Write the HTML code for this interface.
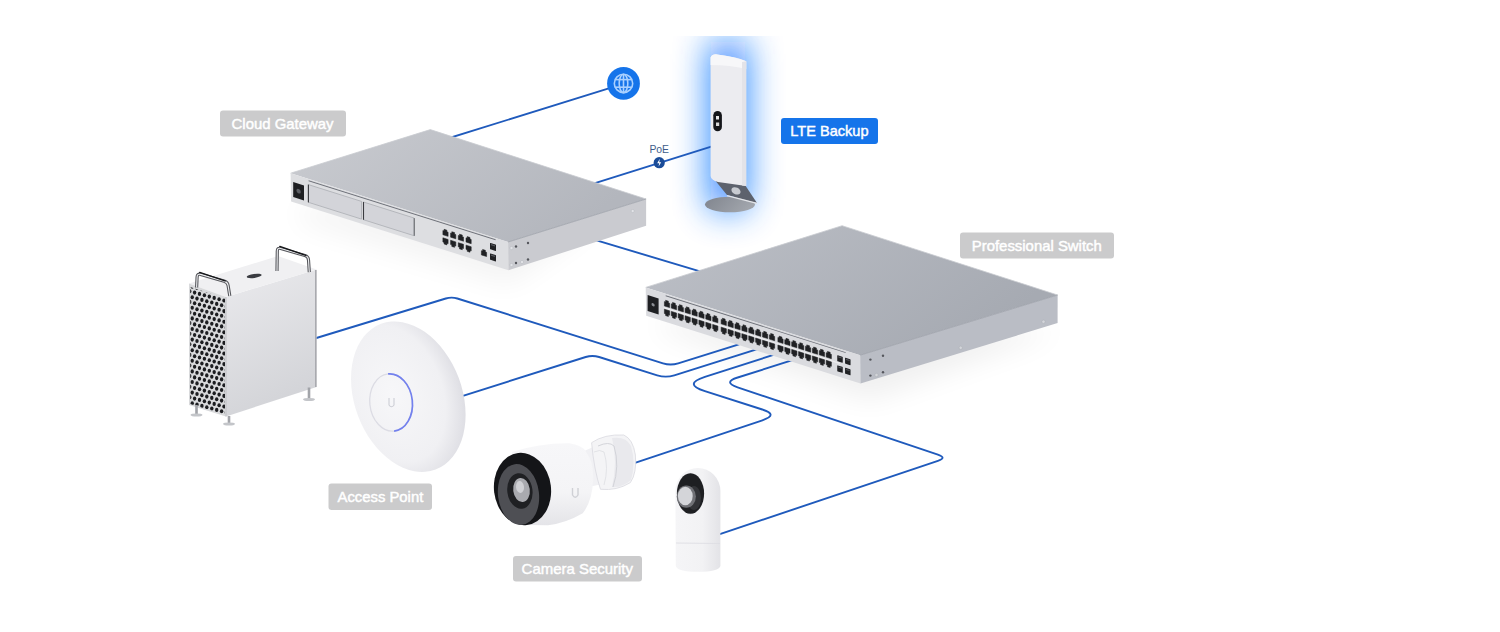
<!DOCTYPE html>
<html><head><meta charset="utf-8"><style>
html,body{margin:0;padding:0;background:#fff;width:1500px;height:632px;overflow:hidden}
svg{display:block}
</style></head><body>
<svg width="1500" height="632" viewBox="0 0 1500 632">
<defs><filter id="blur8" x="-50%" y="-50%" width="200%" height="200%"><feGaussianBlur stdDeviation="9"/></filter><filter id="blur14" x="-50%" y="-50%" width="200%" height="200%"><feGaussianBlur stdDeviation="14"/></filter><filter id="blur18" x="-50%" y="-50%" width="200%" height="200%"><feGaussianBlur stdDeviation="18"/></filter></defs>
<polygon points="300.0,205.0 600.0,220.0 510.0,285.0 300.0,222.0" fill="#000"  opacity="0.045" filter="url(#blur14)"/>
<polygon points="660.0,320.0 1060.0,330.0 870.0,400.0 660.0,330.0" fill="#000"  opacity="0.06" filter="url(#blur14)"/>
<defs><filter id="glow1" filterUnits="userSpaceOnUse" x="600" y="-40" width="260" height="360"><feGaussianBlur stdDeviation="18"/></filter><clipPath id="glowclip"><rect x="640" y="36" width="180" height="225"/></clipPath></defs>
<g clip-path="url(#glowclip)"><rect x="710" y="42" width="36" height="168" fill="#0a72ff" opacity="0.9" filter="url(#glow1)"/></g>
<path d="M430.0,144.0 L612.0,87.4" fill="none" stroke="#1f5abc" stroke-width="1.9" stroke-linecap="round"/>
<path d="M560.0,194.2 L712.0,146.4" fill="none" stroke="#1f5abc" stroke-width="1.9" stroke-linecap="round"/>
<path d="M560.0,229.4 L720.0,277.4" fill="none" stroke="#1f5abc" stroke-width="1.9" stroke-linecap="round"/>
<path d="M300.0,343.0 L445.8,298.5 Q451.6,296.7 457.3,298.5 L663.0,363.3 Q670.6,365.7 678.2,363.3 L765.0,336.1" fill="none" stroke="#1f5abc" stroke-width="1.9" stroke-linecap="round"/>
<path d="M440.0,403.1 L585.7,357.0 Q592.4,354.9 599.1,357.0 L657.2,375.3 Q665.7,378.0 674.3,375.3 L780.0,342.0" fill="none" stroke="#1f5abc" stroke-width="1.9" stroke-linecap="round"/>
<path d="M790.0,349.6 L704.9,376.8 Q682.6,383.9 704.9,391.1 L762.3,409.5 Q778.9,414.8 762.4,420.3 L620.0,467.8" fill="none" stroke="#1f5abc" stroke-width="1.9" stroke-linecap="round"/>
<path d="M805.0,356.2 L737.7,377.5 Q722.5,382.3 737.6,387.3 L937.9,454.7 Q947.2,457.8 937.9,460.9 L705.0,539.1" fill="none" stroke="#1f5abc" stroke-width="1.9" stroke-linecap="round"/>
<defs><linearGradient id="ltebase" x1="0" y1="0" x2="1" y2="0.3"><stop offset="0" stop-color="#80858e"/><stop offset="1" stop-color="#a1a5ac"/></linearGradient></defs>
<ellipse cx="730" cy="204.5" rx="25" ry="7.8" fill="url(#ltebase)"/>
<polygon points="714,179 745,185 757,203 727,195" fill="#5d626d"/>
<line x1="727" y1="195.6" x2="757" y2="203.4" stroke="#e3e5e9" stroke-width="1.3"/>
<ellipse cx="736" cy="190.9" rx="4.8" ry="3.4" fill="#c8cbd1" transform="rotate(25 736 190.9)"/>
<path d="M710.6,57.5 Q712,54 717,54.4 Q735,56.5 746.2,61.2 L746.2,186 L718,182 Q711,180 710.6,176 Z" fill="#ececf0"/>
<path d="M710.6,57.5 Q712,54 717,54.4 Q735,56.5 746.2,61.2 L746.2,69 Q730,65 710.6,65 Z" fill="#f7f7f9"/>
<path d="M742,62 L746.2,61.2 L746.2,186 L742,185.4 Z" fill="#e3e3e8"/>
<rect x="713.3" y="111" width="8.6" height="20.2" rx="4.3" fill="#15161a"/>
<rect x="716" y="116" width="3" height="3.5" fill="#e8e8e8"/><rect x="716" y="122.5" width="3.2" height="3.5" fill="#d8d8d8"/>
<defs><linearGradient id="gwtg" x1="0" y1="0" x2="1" y2="0.4"><stop offset="0" stop-color="#c9cbd0"/><stop offset="1" stop-color="#b3b6bd"/></linearGradient></defs>
<polygon points="290.6,173.2 430.3,129.6 646.1,199.0 508.1,242.0" fill="url(#gwtg)" />
<polyline points="290.6,173.2 430.3,129.6 646.1,199" fill="none" stroke="#c9cbd0" stroke-width="0.8"/>
<polygon points="290.6,173.2 508.1,242.0 508.4,270.2 291.1,201.4" fill="#dddee1" />
<polygon points="508.1,242.0 646.1,199.0 646.1,225.8 508.4,270.2" fill="#cacbd0" />
<line x1="508.1" y1="242" x2="646.1" y2="199" stroke="#9da1aa" stroke-width="0.8"/>
<g transform="matrix(1,0.316,0,1,290.6,173.2)">
<line x1="18" y1="1.8" x2="205" y2="1.8" stroke="#6d7078" stroke-width="0.9"/>
<rect x="2.6" y="8" width="10.8" height="15" fill="#1e1f22"/>
<circle cx="8" cy="15.5" r="2.2" fill="#5d5f65"/>
<rect x="17.8" y="5.8" width="53.10000000000001" height="17.7" fill="#d3d4d9" stroke="#a9abb1" stroke-width="0.7"/>
<line x1="17.8" y1="5.8" x2="17.8" y2="23.5" stroke="#3a3b40" stroke-width="1.1"/>
<rect x="72.9" y="5.8" width="50.69999999999999" height="17.7" fill="#d3d4d9" stroke="#a9abb1" stroke-width="0.7"/>
<line x1="72.9" y1="5.8" x2="72.9" y2="23.5" stroke="#3a3b40" stroke-width="1.1"/>
<line x1="123.6" y1="5.8" x2="123.6" y2="23.5" stroke="#55575c" stroke-width="0.9"/>
<path d="M152.30,13.40 L152.30,9.22 L153.50,9.22 L153.50,7.60 L156.30,7.60 L156.30,9.22 L157.50,9.22 L157.50,13.40 Z" fill="#202124" stroke="#202124" stroke-width="0.5" stroke-linejoin="round"/>
<path d="M160.00,13.40 L160.00,9.22 L161.20,9.22 L161.20,7.60 L164.00,7.60 L164.00,9.22 L165.20,9.22 L165.20,13.40 Z" fill="#202124" stroke="#202124" stroke-width="0.5" stroke-linejoin="round"/>
<path d="M167.70,13.40 L167.70,9.22 L168.90,9.22 L168.90,7.60 L171.70,7.60 L171.70,9.22 L172.90,9.22 L172.90,13.40 Z" fill="#202124" stroke="#202124" stroke-width="0.5" stroke-linejoin="round"/>
<path d="M175.40,13.40 L175.40,9.22 L176.60,9.22 L176.60,7.60 L179.40,7.60 L179.40,9.22 L180.60,9.22 L180.60,13.40 Z" fill="#202124" stroke="#202124" stroke-width="0.5" stroke-linejoin="round"/>
<path d="M152.30,16.50 L152.30,20.68 L153.50,20.68 L153.50,22.30 L156.30,22.30 L156.30,20.68 L157.50,20.68 L157.50,16.50 Z" fill="#202124" stroke="#202124" stroke-width="0.5" stroke-linejoin="round"/>
<path d="M160.00,16.50 L160.00,20.68 L161.20,20.68 L161.20,22.30 L164.00,22.30 L164.00,20.68 L165.20,20.68 L165.20,16.50 Z" fill="#202124" stroke="#202124" stroke-width="0.5" stroke-linejoin="round"/>
<path d="M167.70,16.50 L167.70,20.68 L168.90,20.68 L168.90,22.30 L171.70,22.30 L171.70,20.68 L172.90,20.68 L172.90,16.50 Z" fill="#202124" stroke="#202124" stroke-width="0.5" stroke-linejoin="round"/>
<path d="M175.40,16.50 L175.40,20.68 L176.60,20.68 L176.60,22.30 L179.40,22.30 L179.40,20.68 L180.60,20.68 L180.60,16.50 Z" fill="#202124" stroke="#202124" stroke-width="0.5" stroke-linejoin="round"/>
<path d="M190.80,21.40 L190.80,17.22 L192.00,17.22 L192.00,15.60 L194.80,15.60 L194.80,17.22 L196.00,17.22 L196.00,21.40 Z" fill="#202124" stroke="#202124" stroke-width="0.5" stroke-linejoin="round"/>
<rect x="199.40" y="6.65" width="6" height="6.3" rx="0.5" fill="#202124"/><rect x="200.40" y="7.55" width="4" height="1.1" fill="#55575d"/>
<rect x="199.40" y="17.15" width="6" height="6.3" rx="0.5" fill="#202124"/><rect x="200.40" y="18.05" width="4" height="1.1" fill="#55575d"/>
</g>
<circle cx="516" cy="246.5" r="1.2" fill="#55575d"/>
<circle cx="528" cy="243" r="1.2" fill="#55575d"/>
<circle cx="516" cy="263" r="1.2" fill="#55575d"/>
<circle cx="528" cy="259.5" r="1.2" fill="#55575d"/>
<circle cx="632.7" cy="211" r="1.6" fill="#e2e3e7" stroke="#b5b8be" stroke-width="0.5"/>
<circle cx="511.5" cy="248" r="1.6" fill="#e2e3e7" stroke="#b5b8be" stroke-width="0.5"/>
<circle cx="511.5" cy="265" r="1.6" fill="#e2e3e7" stroke="#b5b8be" stroke-width="0.5"/>
<circle cx="522" cy="262" r="1.6" fill="#e2e3e7" stroke="#b5b8be" stroke-width="0.5"/>
<defs><linearGradient id="swtg" x1="0" y1="0" x2="1" y2="0.4"><stop offset="0" stop-color="#bdc0c7"/><stop offset="1" stop-color="#a6aab2"/></linearGradient></defs>
<polygon points="645.7,287.4 842.1,225.7 1057.6,295.0 860.2,355.2" fill="url(#swtg)" />
<polyline points="645.7,287.4 842.1,225.7 1057.6,295" fill="none" stroke="#c9cbd0" stroke-width="0.8"/>
<polygon points="645.7,287.4 860.2,355.2 860.5,383.5 646.2,315.7" fill="#dadbdf" />
<polygon points="860.2,355.2 1057.6,295.0 1057.6,323.1 860.5,383.5" fill="#babdc5" />
<line x1="860.2" y1="355.2" x2="1057.6" y2="295" stroke="#9da1aa" stroke-width="0.8"/>
<g transform="matrix(1,0.316,0,1,645.7,287.4)">
<line x1="20" y1="2" x2="200" y2="2" stroke="#6d7078" stroke-width="0.9"/>
<rect x="1.9" y="7" width="11" height="16" fill="#1e1f22"/>
<circle cx="7.4" cy="15" r="1.6" fill="#8c8e94"/>
<rect x="18" y="14" width="176" height="1.2" fill="#eeeef0"/>
<path d="M18.70,12.60 L18.70,8.28 L19.90,8.28 L19.90,6.60 L22.70,6.60 L22.70,8.28 L23.90,8.28 L23.90,12.60 Z" fill="#202124" stroke="#202124" stroke-width="0.5" stroke-linejoin="round"/>
<path d="M18.70,15.90 L18.70,20.22 L19.90,20.22 L19.90,21.90 L22.70,21.90 L22.70,20.22 L23.90,20.22 L23.90,15.90 Z" fill="#202124" stroke="#202124" stroke-width="0.5" stroke-linejoin="round"/>
<path d="M25.60,12.60 L25.60,8.28 L26.80,8.28 L26.80,6.60 L29.60,6.60 L29.60,8.28 L30.80,8.28 L30.80,12.60 Z" fill="#202124" stroke="#202124" stroke-width="0.5" stroke-linejoin="round"/>
<path d="M25.60,15.90 L25.60,20.22 L26.80,20.22 L26.80,21.90 L29.60,21.90 L29.60,20.22 L30.80,20.22 L30.80,15.90 Z" fill="#202124" stroke="#202124" stroke-width="0.5" stroke-linejoin="round"/>
<path d="M32.50,12.60 L32.50,8.28 L33.70,8.28 L33.70,6.60 L36.50,6.60 L36.50,8.28 L37.70,8.28 L37.70,12.60 Z" fill="#202124" stroke="#202124" stroke-width="0.5" stroke-linejoin="round"/>
<path d="M32.50,15.90 L32.50,20.22 L33.70,20.22 L33.70,21.90 L36.50,21.90 L36.50,20.22 L37.70,20.22 L37.70,15.90 Z" fill="#202124" stroke="#202124" stroke-width="0.5" stroke-linejoin="round"/>
<path d="M39.40,12.60 L39.40,8.28 L40.60,8.28 L40.60,6.60 L43.40,6.60 L43.40,8.28 L44.60,8.28 L44.60,12.60 Z" fill="#202124" stroke="#202124" stroke-width="0.5" stroke-linejoin="round"/>
<path d="M39.40,15.90 L39.40,20.22 L40.60,20.22 L40.60,21.90 L43.40,21.90 L43.40,20.22 L44.60,20.22 L44.60,15.90 Z" fill="#202124" stroke="#202124" stroke-width="0.5" stroke-linejoin="round"/>
<path d="M46.30,12.60 L46.30,8.28 L47.50,8.28 L47.50,6.60 L50.30,6.60 L50.30,8.28 L51.50,8.28 L51.50,12.60 Z" fill="#202124" stroke="#202124" stroke-width="0.5" stroke-linejoin="round"/>
<path d="M46.30,15.90 L46.30,20.22 L47.50,20.22 L47.50,21.90 L50.30,21.90 L50.30,20.22 L51.50,20.22 L51.50,15.90 Z" fill="#202124" stroke="#202124" stroke-width="0.5" stroke-linejoin="round"/>
<path d="M53.20,12.60 L53.20,8.28 L54.40,8.28 L54.40,6.60 L57.20,6.60 L57.20,8.28 L58.40,8.28 L58.40,12.60 Z" fill="#202124" stroke="#202124" stroke-width="0.5" stroke-linejoin="round"/>
<path d="M53.20,15.90 L53.20,20.22 L54.40,20.22 L54.40,21.90 L57.20,21.90 L57.20,20.22 L58.40,20.22 L58.40,15.90 Z" fill="#202124" stroke="#202124" stroke-width="0.5" stroke-linejoin="round"/>
<path d="M60.10,12.60 L60.10,8.28 L61.30,8.28 L61.30,6.60 L64.10,6.60 L64.10,8.28 L65.30,8.28 L65.30,12.60 Z" fill="#202124" stroke="#202124" stroke-width="0.5" stroke-linejoin="round"/>
<path d="M60.10,15.90 L60.10,20.22 L61.30,20.22 L61.30,21.90 L64.10,21.90 L64.10,20.22 L65.30,20.22 L65.30,15.90 Z" fill="#202124" stroke="#202124" stroke-width="0.5" stroke-linejoin="round"/>
<path d="M67.00,12.60 L67.00,8.28 L68.20,8.28 L68.20,6.60 L71.00,6.60 L71.00,8.28 L72.20,8.28 L72.20,12.60 Z" fill="#202124" stroke="#202124" stroke-width="0.5" stroke-linejoin="round"/>
<path d="M67.00,15.90 L67.00,20.22 L68.20,20.22 L68.20,21.90 L71.00,21.90 L71.00,20.22 L72.20,20.22 L72.20,15.90 Z" fill="#202124" stroke="#202124" stroke-width="0.5" stroke-linejoin="round"/>
<path d="M75.45,12.60 L75.45,8.28 L76.65,8.28 L76.65,6.60 L79.45,6.60 L79.45,8.28 L80.65,8.28 L80.65,12.60 Z" fill="#202124" stroke="#202124" stroke-width="0.5" stroke-linejoin="round"/>
<path d="M75.45,15.90 L75.45,20.22 L76.65,20.22 L76.65,21.90 L79.45,21.90 L79.45,20.22 L80.65,20.22 L80.65,15.90 Z" fill="#202124" stroke="#202124" stroke-width="0.5" stroke-linejoin="round"/>
<path d="M82.35,12.60 L82.35,8.28 L83.55,8.28 L83.55,6.60 L86.35,6.60 L86.35,8.28 L87.55,8.28 L87.55,12.60 Z" fill="#202124" stroke="#202124" stroke-width="0.5" stroke-linejoin="round"/>
<path d="M82.35,15.90 L82.35,20.22 L83.55,20.22 L83.55,21.90 L86.35,21.90 L86.35,20.22 L87.55,20.22 L87.55,15.90 Z" fill="#202124" stroke="#202124" stroke-width="0.5" stroke-linejoin="round"/>
<path d="M89.25,12.60 L89.25,8.28 L90.45,8.28 L90.45,6.60 L93.25,6.60 L93.25,8.28 L94.45,8.28 L94.45,12.60 Z" fill="#202124" stroke="#202124" stroke-width="0.5" stroke-linejoin="round"/>
<path d="M89.25,15.90 L89.25,20.22 L90.45,20.22 L90.45,21.90 L93.25,21.90 L93.25,20.22 L94.45,20.22 L94.45,15.90 Z" fill="#202124" stroke="#202124" stroke-width="0.5" stroke-linejoin="round"/>
<path d="M96.15,12.60 L96.15,8.28 L97.35,8.28 L97.35,6.60 L100.15,6.60 L100.15,8.28 L101.35,8.28 L101.35,12.60 Z" fill="#202124" stroke="#202124" stroke-width="0.5" stroke-linejoin="round"/>
<path d="M96.15,15.90 L96.15,20.22 L97.35,20.22 L97.35,21.90 L100.15,21.90 L100.15,20.22 L101.35,20.22 L101.35,15.90 Z" fill="#202124" stroke="#202124" stroke-width="0.5" stroke-linejoin="round"/>
<path d="M103.05,12.60 L103.05,8.28 L104.25,8.28 L104.25,6.60 L107.05,6.60 L107.05,8.28 L108.25,8.28 L108.25,12.60 Z" fill="#202124" stroke="#202124" stroke-width="0.5" stroke-linejoin="round"/>
<path d="M103.05,15.90 L103.05,20.22 L104.25,20.22 L104.25,21.90 L107.05,21.90 L107.05,20.22 L108.25,20.22 L108.25,15.90 Z" fill="#202124" stroke="#202124" stroke-width="0.5" stroke-linejoin="round"/>
<path d="M109.95,12.60 L109.95,8.28 L111.15,8.28 L111.15,6.60 L113.95,6.60 L113.95,8.28 L115.15,8.28 L115.15,12.60 Z" fill="#202124" stroke="#202124" stroke-width="0.5" stroke-linejoin="round"/>
<path d="M109.95,15.90 L109.95,20.22 L111.15,20.22 L111.15,21.90 L113.95,21.90 L113.95,20.22 L115.15,20.22 L115.15,15.90 Z" fill="#202124" stroke="#202124" stroke-width="0.5" stroke-linejoin="round"/>
<path d="M116.85,12.60 L116.85,8.28 L118.05,8.28 L118.05,6.60 L120.85,6.60 L120.85,8.28 L122.05,8.28 L122.05,12.60 Z" fill="#202124" stroke="#202124" stroke-width="0.5" stroke-linejoin="round"/>
<path d="M116.85,15.90 L116.85,20.22 L118.05,20.22 L118.05,21.90 L120.85,21.90 L120.85,20.22 L122.05,20.22 L122.05,15.90 Z" fill="#202124" stroke="#202124" stroke-width="0.5" stroke-linejoin="round"/>
<path d="M123.75,12.60 L123.75,8.28 L124.95,8.28 L124.95,6.60 L127.75,6.60 L127.75,8.28 L128.95,8.28 L128.95,12.60 Z" fill="#202124" stroke="#202124" stroke-width="0.5" stroke-linejoin="round"/>
<path d="M123.75,15.90 L123.75,20.22 L124.95,20.22 L124.95,21.90 L127.75,21.90 L127.75,20.22 L128.95,20.22 L128.95,15.90 Z" fill="#202124" stroke="#202124" stroke-width="0.5" stroke-linejoin="round"/>
<path d="M132.20,12.60 L132.20,8.28 L133.40,8.28 L133.40,6.60 L136.20,6.60 L136.20,8.28 L137.40,8.28 L137.40,12.60 Z" fill="#202124" stroke="#202124" stroke-width="0.5" stroke-linejoin="round"/>
<path d="M132.20,15.90 L132.20,20.22 L133.40,20.22 L133.40,21.90 L136.20,21.90 L136.20,20.22 L137.40,20.22 L137.40,15.90 Z" fill="#202124" stroke="#202124" stroke-width="0.5" stroke-linejoin="round"/>
<path d="M139.10,12.60 L139.10,8.28 L140.30,8.28 L140.30,6.60 L143.10,6.60 L143.10,8.28 L144.30,8.28 L144.30,12.60 Z" fill="#202124" stroke="#202124" stroke-width="0.5" stroke-linejoin="round"/>
<path d="M139.10,15.90 L139.10,20.22 L140.30,20.22 L140.30,21.90 L143.10,21.90 L143.10,20.22 L144.30,20.22 L144.30,15.90 Z" fill="#202124" stroke="#202124" stroke-width="0.5" stroke-linejoin="round"/>
<path d="M146.00,12.60 L146.00,8.28 L147.20,8.28 L147.20,6.60 L150.00,6.60 L150.00,8.28 L151.20,8.28 L151.20,12.60 Z" fill="#202124" stroke="#202124" stroke-width="0.5" stroke-linejoin="round"/>
<path d="M146.00,15.90 L146.00,20.22 L147.20,20.22 L147.20,21.90 L150.00,21.90 L150.00,20.22 L151.20,20.22 L151.20,15.90 Z" fill="#202124" stroke="#202124" stroke-width="0.5" stroke-linejoin="round"/>
<path d="M152.90,12.60 L152.90,8.28 L154.10,8.28 L154.10,6.60 L156.90,6.60 L156.90,8.28 L158.10,8.28 L158.10,12.60 Z" fill="#202124" stroke="#202124" stroke-width="0.5" stroke-linejoin="round"/>
<path d="M152.90,15.90 L152.90,20.22 L154.10,20.22 L154.10,21.90 L156.90,21.90 L156.90,20.22 L158.10,20.22 L158.10,15.90 Z" fill="#202124" stroke="#202124" stroke-width="0.5" stroke-linejoin="round"/>
<path d="M159.80,12.60 L159.80,8.28 L161.00,8.28 L161.00,6.60 L163.80,6.60 L163.80,8.28 L165.00,8.28 L165.00,12.60 Z" fill="#202124" stroke="#202124" stroke-width="0.5" stroke-linejoin="round"/>
<path d="M159.80,15.90 L159.80,20.22 L161.00,20.22 L161.00,21.90 L163.80,21.90 L163.80,20.22 L165.00,20.22 L165.00,15.90 Z" fill="#202124" stroke="#202124" stroke-width="0.5" stroke-linejoin="round"/>
<path d="M166.70,12.60 L166.70,8.28 L167.90,8.28 L167.90,6.60 L170.70,6.60 L170.70,8.28 L171.90,8.28 L171.90,12.60 Z" fill="#202124" stroke="#202124" stroke-width="0.5" stroke-linejoin="round"/>
<path d="M166.70,15.90 L166.70,20.22 L167.90,20.22 L167.90,21.90 L170.70,21.90 L170.70,20.22 L171.90,20.22 L171.90,15.90 Z" fill="#202124" stroke="#202124" stroke-width="0.5" stroke-linejoin="round"/>
<path d="M173.60,12.60 L173.60,8.28 L174.80,8.28 L174.80,6.60 L177.60,6.60 L177.60,8.28 L178.80,8.28 L178.80,12.60 Z" fill="#202124" stroke="#202124" stroke-width="0.5" stroke-linejoin="round"/>
<path d="M173.60,15.90 L173.60,20.22 L174.80,20.22 L174.80,21.90 L177.60,21.90 L177.60,20.22 L178.80,20.22 L178.80,15.90 Z" fill="#202124" stroke="#202124" stroke-width="0.5" stroke-linejoin="round"/>
<path d="M180.50,12.60 L180.50,8.28 L181.70,8.28 L181.70,6.60 L184.50,6.60 L184.50,8.28 L185.70,8.28 L185.70,12.60 Z" fill="#202124" stroke="#202124" stroke-width="0.5" stroke-linejoin="round"/>
<path d="M180.50,15.90 L180.50,20.22 L181.70,20.22 L181.70,21.90 L184.50,21.90 L184.50,20.22 L185.70,20.22 L185.70,15.90 Z" fill="#202124" stroke="#202124" stroke-width="0.5" stroke-linejoin="round"/>
<rect x="191.55" y="7.20" width="5.5" height="6" rx="0.5" fill="#202124"/><rect x="192.55" y="8.10" width="3.5" height="1.1" fill="#55575d"/>
<rect x="191.55" y="17.30" width="5.5" height="6" rx="0.5" fill="#202124"/><rect x="192.55" y="18.20" width="3.5" height="1.1" fill="#55575d"/>
<rect x="199.35" y="7.20" width="5.5" height="6" rx="0.5" fill="#202124"/><rect x="200.35" y="8.10" width="3.5" height="1.1" fill="#55575d"/>
<rect x="199.35" y="17.30" width="5.5" height="6" rx="0.5" fill="#202124"/><rect x="200.35" y="18.20" width="3.5" height="1.1" fill="#55575d"/>
</g>
<circle cx="870.4" cy="359.6" r="1.2" fill="#55575d"/>
<circle cx="883" cy="355.7" r="1.2" fill="#55575d"/>
<circle cx="870.4" cy="375.6" r="1.2" fill="#55575d"/>
<circle cx="883" cy="372.3" r="1.2" fill="#55575d"/>
<circle cx="960.7" cy="347.8" r="1.7" fill="#d3d5da" stroke="#a9acb3" stroke-width="0.5"/>
<circle cx="1043.5" cy="321.7" r="1.7" fill="#d3d5da" stroke="#a9acb3" stroke-width="0.5"/>
<circle cx="876.5" cy="375" r="1.7" fill="#d3d5da" stroke="#a9acb3" stroke-width="0.5"/>
<defs><linearGradient id="macside" x1="0" y1="0" x2="0.3" y2="1"><stop offset="0" stop-color="#eaeaed"/><stop offset="1" stop-color="#d3d4d8"/></linearGradient></defs>
<polygon points="226.0,297.0 316.5,269.4 316.5,387.0 226.0,416.5" fill="url(#macside)" />
<line x1="315.8" y1="270" x2="315.8" y2="387" stroke="#a9aaaf" stroke-width="1.6"/>
<polygon points="189.0,283.5 278.0,256.0 316.5,269.4 226.0,297.0" fill="#f0f0f2" />
<polygon points="189.0,283.5 226.0,297.0 226.0,416.5 189.0,405.0" fill="#d9dadc" />
<clipPath id="perf"><polygon points="190.2,287 225,298.5 225,415 190.2,404"/></clipPath><g clip-path="url(#perf)">
<ellipse cx="187.2" cy="285.3" rx="1.7" ry="2.05" fill="#1c1d20"/>
<ellipse cx="192.2" cy="286.6" rx="1.7" ry="2.05" fill="#1c1d20"/>
<ellipse cx="197.0" cy="288.0" rx="1.7" ry="2.05" fill="#1c1d20"/>
<ellipse cx="201.9" cy="289.3" rx="1.7" ry="2.05" fill="#1c1d20"/>
<ellipse cx="206.8" cy="290.6" rx="1.7" ry="2.05" fill="#1c1d20"/>
<ellipse cx="211.8" cy="291.9" rx="1.7" ry="2.05" fill="#1c1d20"/>
<ellipse cx="216.7" cy="293.3" rx="1.7" ry="2.05" fill="#1c1d20"/>
<ellipse cx="221.6" cy="294.6" rx="1.7" ry="2.05" fill="#1c1d20"/>
<ellipse cx="226.4" cy="295.9" rx="1.7" ry="2.05" fill="#1c1d20"/>
<ellipse cx="231.3" cy="297.2" rx="1.7" ry="2.05" fill="#1c1d20"/>
<ellipse cx="189.7" cy="291.3" rx="1.7" ry="2.05" fill="#1c1d20"/>
<ellipse cx="194.6" cy="292.6" rx="1.7" ry="2.05" fill="#1c1d20"/>
<ellipse cx="199.5" cy="293.9" rx="1.7" ry="2.05" fill="#1c1d20"/>
<ellipse cx="204.4" cy="295.2" rx="1.7" ry="2.05" fill="#1c1d20"/>
<ellipse cx="209.3" cy="296.6" rx="1.7" ry="2.05" fill="#1c1d20"/>
<ellipse cx="214.2" cy="297.9" rx="1.7" ry="2.05" fill="#1c1d20"/>
<ellipse cx="219.1" cy="299.2" rx="1.7" ry="2.05" fill="#1c1d20"/>
<ellipse cx="224.0" cy="300.5" rx="1.7" ry="2.05" fill="#1c1d20"/>
<ellipse cx="228.9" cy="301.9" rx="1.7" ry="2.05" fill="#1c1d20"/>
<ellipse cx="233.8" cy="303.2" rx="1.7" ry="2.05" fill="#1c1d20"/>
<ellipse cx="187.2" cy="295.9" rx="1.7" ry="2.05" fill="#1c1d20"/>
<ellipse cx="192.2" cy="297.2" rx="1.7" ry="2.05" fill="#1c1d20"/>
<ellipse cx="197.0" cy="298.6" rx="1.7" ry="2.05" fill="#1c1d20"/>
<ellipse cx="201.9" cy="299.9" rx="1.7" ry="2.05" fill="#1c1d20"/>
<ellipse cx="206.8" cy="301.2" rx="1.7" ry="2.05" fill="#1c1d20"/>
<ellipse cx="211.8" cy="302.5" rx="1.7" ry="2.05" fill="#1c1d20"/>
<ellipse cx="216.7" cy="303.9" rx="1.7" ry="2.05" fill="#1c1d20"/>
<ellipse cx="221.6" cy="305.2" rx="1.7" ry="2.05" fill="#1c1d20"/>
<ellipse cx="226.4" cy="306.5" rx="1.7" ry="2.05" fill="#1c1d20"/>
<ellipse cx="231.3" cy="307.8" rx="1.7" ry="2.05" fill="#1c1d20"/>
<ellipse cx="189.7" cy="301.9" rx="1.7" ry="2.05" fill="#1c1d20"/>
<ellipse cx="194.6" cy="303.2" rx="1.7" ry="2.05" fill="#1c1d20"/>
<ellipse cx="199.5" cy="304.5" rx="1.7" ry="2.05" fill="#1c1d20"/>
<ellipse cx="204.4" cy="305.8" rx="1.7" ry="2.05" fill="#1c1d20"/>
<ellipse cx="209.3" cy="307.2" rx="1.7" ry="2.05" fill="#1c1d20"/>
<ellipse cx="214.2" cy="308.5" rx="1.7" ry="2.05" fill="#1c1d20"/>
<ellipse cx="219.1" cy="309.8" rx="1.7" ry="2.05" fill="#1c1d20"/>
<ellipse cx="224.0" cy="311.1" rx="1.7" ry="2.05" fill="#1c1d20"/>
<ellipse cx="228.9" cy="312.5" rx="1.7" ry="2.05" fill="#1c1d20"/>
<ellipse cx="233.8" cy="313.8" rx="1.7" ry="2.05" fill="#1c1d20"/>
<ellipse cx="187.2" cy="306.5" rx="1.7" ry="2.05" fill="#1c1d20"/>
<ellipse cx="192.2" cy="307.8" rx="1.7" ry="2.05" fill="#1c1d20"/>
<ellipse cx="197.0" cy="309.2" rx="1.7" ry="2.05" fill="#1c1d20"/>
<ellipse cx="201.9" cy="310.5" rx="1.7" ry="2.05" fill="#1c1d20"/>
<ellipse cx="206.8" cy="311.8" rx="1.7" ry="2.05" fill="#1c1d20"/>
<ellipse cx="211.8" cy="313.1" rx="1.7" ry="2.05" fill="#1c1d20"/>
<ellipse cx="216.7" cy="314.5" rx="1.7" ry="2.05" fill="#1c1d20"/>
<ellipse cx="221.6" cy="315.8" rx="1.7" ry="2.05" fill="#1c1d20"/>
<ellipse cx="226.4" cy="317.1" rx="1.7" ry="2.05" fill="#1c1d20"/>
<ellipse cx="231.3" cy="318.4" rx="1.7" ry="2.05" fill="#1c1d20"/>
<ellipse cx="189.7" cy="312.5" rx="1.7" ry="2.05" fill="#1c1d20"/>
<ellipse cx="194.6" cy="313.8" rx="1.7" ry="2.05" fill="#1c1d20"/>
<ellipse cx="199.5" cy="315.1" rx="1.7" ry="2.05" fill="#1c1d20"/>
<ellipse cx="204.4" cy="316.4" rx="1.7" ry="2.05" fill="#1c1d20"/>
<ellipse cx="209.3" cy="317.8" rx="1.7" ry="2.05" fill="#1c1d20"/>
<ellipse cx="214.2" cy="319.1" rx="1.7" ry="2.05" fill="#1c1d20"/>
<ellipse cx="219.1" cy="320.4" rx="1.7" ry="2.05" fill="#1c1d20"/>
<ellipse cx="224.0" cy="321.7" rx="1.7" ry="2.05" fill="#1c1d20"/>
<ellipse cx="228.9" cy="323.1" rx="1.7" ry="2.05" fill="#1c1d20"/>
<ellipse cx="233.8" cy="324.4" rx="1.7" ry="2.05" fill="#1c1d20"/>
<ellipse cx="187.2" cy="317.1" rx="1.7" ry="2.05" fill="#1c1d20"/>
<ellipse cx="192.2" cy="318.4" rx="1.7" ry="2.05" fill="#1c1d20"/>
<ellipse cx="197.0" cy="319.8" rx="1.7" ry="2.05" fill="#1c1d20"/>
<ellipse cx="201.9" cy="321.1" rx="1.7" ry="2.05" fill="#1c1d20"/>
<ellipse cx="206.8" cy="322.4" rx="1.7" ry="2.05" fill="#1c1d20"/>
<ellipse cx="211.8" cy="323.7" rx="1.7" ry="2.05" fill="#1c1d20"/>
<ellipse cx="216.7" cy="325.1" rx="1.7" ry="2.05" fill="#1c1d20"/>
<ellipse cx="221.6" cy="326.4" rx="1.7" ry="2.05" fill="#1c1d20"/>
<ellipse cx="226.4" cy="327.7" rx="1.7" ry="2.05" fill="#1c1d20"/>
<ellipse cx="231.3" cy="329.0" rx="1.7" ry="2.05" fill="#1c1d20"/>
<ellipse cx="189.7" cy="323.1" rx="1.7" ry="2.05" fill="#1c1d20"/>
<ellipse cx="194.6" cy="324.4" rx="1.7" ry="2.05" fill="#1c1d20"/>
<ellipse cx="199.5" cy="325.7" rx="1.7" ry="2.05" fill="#1c1d20"/>
<ellipse cx="204.4" cy="327.0" rx="1.7" ry="2.05" fill="#1c1d20"/>
<ellipse cx="209.3" cy="328.4" rx="1.7" ry="2.05" fill="#1c1d20"/>
<ellipse cx="214.2" cy="329.7" rx="1.7" ry="2.05" fill="#1c1d20"/>
<ellipse cx="219.1" cy="331.0" rx="1.7" ry="2.05" fill="#1c1d20"/>
<ellipse cx="224.0" cy="332.3" rx="1.7" ry="2.05" fill="#1c1d20"/>
<ellipse cx="228.9" cy="333.7" rx="1.7" ry="2.05" fill="#1c1d20"/>
<ellipse cx="233.8" cy="335.0" rx="1.7" ry="2.05" fill="#1c1d20"/>
<ellipse cx="187.2" cy="327.7" rx="1.7" ry="2.05" fill="#1c1d20"/>
<ellipse cx="192.2" cy="329.0" rx="1.7" ry="2.05" fill="#1c1d20"/>
<ellipse cx="197.0" cy="330.4" rx="1.7" ry="2.05" fill="#1c1d20"/>
<ellipse cx="201.9" cy="331.7" rx="1.7" ry="2.05" fill="#1c1d20"/>
<ellipse cx="206.8" cy="333.0" rx="1.7" ry="2.05" fill="#1c1d20"/>
<ellipse cx="211.8" cy="334.3" rx="1.7" ry="2.05" fill="#1c1d20"/>
<ellipse cx="216.7" cy="335.7" rx="1.7" ry="2.05" fill="#1c1d20"/>
<ellipse cx="221.6" cy="337.0" rx="1.7" ry="2.05" fill="#1c1d20"/>
<ellipse cx="226.4" cy="338.3" rx="1.7" ry="2.05" fill="#1c1d20"/>
<ellipse cx="231.3" cy="339.6" rx="1.7" ry="2.05" fill="#1c1d20"/>
<ellipse cx="189.7" cy="333.7" rx="1.7" ry="2.05" fill="#1c1d20"/>
<ellipse cx="194.6" cy="335.0" rx="1.7" ry="2.05" fill="#1c1d20"/>
<ellipse cx="199.5" cy="336.3" rx="1.7" ry="2.05" fill="#1c1d20"/>
<ellipse cx="204.4" cy="337.6" rx="1.7" ry="2.05" fill="#1c1d20"/>
<ellipse cx="209.3" cy="339.0" rx="1.7" ry="2.05" fill="#1c1d20"/>
<ellipse cx="214.2" cy="340.3" rx="1.7" ry="2.05" fill="#1c1d20"/>
<ellipse cx="219.1" cy="341.6" rx="1.7" ry="2.05" fill="#1c1d20"/>
<ellipse cx="224.0" cy="342.9" rx="1.7" ry="2.05" fill="#1c1d20"/>
<ellipse cx="228.9" cy="344.3" rx="1.7" ry="2.05" fill="#1c1d20"/>
<ellipse cx="233.8" cy="345.6" rx="1.7" ry="2.05" fill="#1c1d20"/>
<ellipse cx="187.2" cy="338.3" rx="1.7" ry="2.05" fill="#1c1d20"/>
<ellipse cx="192.2" cy="339.6" rx="1.7" ry="2.05" fill="#1c1d20"/>
<ellipse cx="197.0" cy="341.0" rx="1.7" ry="2.05" fill="#1c1d20"/>
<ellipse cx="201.9" cy="342.3" rx="1.7" ry="2.05" fill="#1c1d20"/>
<ellipse cx="206.8" cy="343.6" rx="1.7" ry="2.05" fill="#1c1d20"/>
<ellipse cx="211.8" cy="344.9" rx="1.7" ry="2.05" fill="#1c1d20"/>
<ellipse cx="216.7" cy="346.3" rx="1.7" ry="2.05" fill="#1c1d20"/>
<ellipse cx="221.6" cy="347.6" rx="1.7" ry="2.05" fill="#1c1d20"/>
<ellipse cx="226.4" cy="348.9" rx="1.7" ry="2.05" fill="#1c1d20"/>
<ellipse cx="231.3" cy="350.2" rx="1.7" ry="2.05" fill="#1c1d20"/>
<ellipse cx="189.7" cy="344.3" rx="1.7" ry="2.05" fill="#1c1d20"/>
<ellipse cx="194.6" cy="345.6" rx="1.7" ry="2.05" fill="#1c1d20"/>
<ellipse cx="199.5" cy="346.9" rx="1.7" ry="2.05" fill="#1c1d20"/>
<ellipse cx="204.4" cy="348.2" rx="1.7" ry="2.05" fill="#1c1d20"/>
<ellipse cx="209.3" cy="349.6" rx="1.7" ry="2.05" fill="#1c1d20"/>
<ellipse cx="214.2" cy="350.9" rx="1.7" ry="2.05" fill="#1c1d20"/>
<ellipse cx="219.1" cy="352.2" rx="1.7" ry="2.05" fill="#1c1d20"/>
<ellipse cx="224.0" cy="353.5" rx="1.7" ry="2.05" fill="#1c1d20"/>
<ellipse cx="228.9" cy="354.9" rx="1.7" ry="2.05" fill="#1c1d20"/>
<ellipse cx="233.8" cy="356.2" rx="1.7" ry="2.05" fill="#1c1d20"/>
<ellipse cx="187.2" cy="348.9" rx="1.7" ry="2.05" fill="#1c1d20"/>
<ellipse cx="192.2" cy="350.2" rx="1.7" ry="2.05" fill="#1c1d20"/>
<ellipse cx="197.0" cy="351.6" rx="1.7" ry="2.05" fill="#1c1d20"/>
<ellipse cx="201.9" cy="352.9" rx="1.7" ry="2.05" fill="#1c1d20"/>
<ellipse cx="206.8" cy="354.2" rx="1.7" ry="2.05" fill="#1c1d20"/>
<ellipse cx="211.8" cy="355.5" rx="1.7" ry="2.05" fill="#1c1d20"/>
<ellipse cx="216.7" cy="356.9" rx="1.7" ry="2.05" fill="#1c1d20"/>
<ellipse cx="221.6" cy="358.2" rx="1.7" ry="2.05" fill="#1c1d20"/>
<ellipse cx="226.4" cy="359.5" rx="1.7" ry="2.05" fill="#1c1d20"/>
<ellipse cx="231.3" cy="360.8" rx="1.7" ry="2.05" fill="#1c1d20"/>
<ellipse cx="189.7" cy="354.9" rx="1.7" ry="2.05" fill="#1c1d20"/>
<ellipse cx="194.6" cy="356.2" rx="1.7" ry="2.05" fill="#1c1d20"/>
<ellipse cx="199.5" cy="357.5" rx="1.7" ry="2.05" fill="#1c1d20"/>
<ellipse cx="204.4" cy="358.8" rx="1.7" ry="2.05" fill="#1c1d20"/>
<ellipse cx="209.3" cy="360.2" rx="1.7" ry="2.05" fill="#1c1d20"/>
<ellipse cx="214.2" cy="361.5" rx="1.7" ry="2.05" fill="#1c1d20"/>
<ellipse cx="219.1" cy="362.8" rx="1.7" ry="2.05" fill="#1c1d20"/>
<ellipse cx="224.0" cy="364.1" rx="1.7" ry="2.05" fill="#1c1d20"/>
<ellipse cx="228.9" cy="365.5" rx="1.7" ry="2.05" fill="#1c1d20"/>
<ellipse cx="233.8" cy="366.8" rx="1.7" ry="2.05" fill="#1c1d20"/>
<ellipse cx="187.2" cy="359.5" rx="1.7" ry="2.05" fill="#1c1d20"/>
<ellipse cx="192.2" cy="360.8" rx="1.7" ry="2.05" fill="#1c1d20"/>
<ellipse cx="197.0" cy="362.2" rx="1.7" ry="2.05" fill="#1c1d20"/>
<ellipse cx="201.9" cy="363.5" rx="1.7" ry="2.05" fill="#1c1d20"/>
<ellipse cx="206.8" cy="364.8" rx="1.7" ry="2.05" fill="#1c1d20"/>
<ellipse cx="211.8" cy="366.1" rx="1.7" ry="2.05" fill="#1c1d20"/>
<ellipse cx="216.7" cy="367.5" rx="1.7" ry="2.05" fill="#1c1d20"/>
<ellipse cx="221.6" cy="368.8" rx="1.7" ry="2.05" fill="#1c1d20"/>
<ellipse cx="226.4" cy="370.1" rx="1.7" ry="2.05" fill="#1c1d20"/>
<ellipse cx="231.3" cy="371.4" rx="1.7" ry="2.05" fill="#1c1d20"/>
<ellipse cx="189.7" cy="365.5" rx="1.7" ry="2.05" fill="#1c1d20"/>
<ellipse cx="194.6" cy="366.8" rx="1.7" ry="2.05" fill="#1c1d20"/>
<ellipse cx="199.5" cy="368.1" rx="1.7" ry="2.05" fill="#1c1d20"/>
<ellipse cx="204.4" cy="369.4" rx="1.7" ry="2.05" fill="#1c1d20"/>
<ellipse cx="209.3" cy="370.8" rx="1.7" ry="2.05" fill="#1c1d20"/>
<ellipse cx="214.2" cy="372.1" rx="1.7" ry="2.05" fill="#1c1d20"/>
<ellipse cx="219.1" cy="373.4" rx="1.7" ry="2.05" fill="#1c1d20"/>
<ellipse cx="224.0" cy="374.7" rx="1.7" ry="2.05" fill="#1c1d20"/>
<ellipse cx="228.9" cy="376.1" rx="1.7" ry="2.05" fill="#1c1d20"/>
<ellipse cx="233.8" cy="377.4" rx="1.7" ry="2.05" fill="#1c1d20"/>
<ellipse cx="187.2" cy="370.1" rx="1.7" ry="2.05" fill="#1c1d20"/>
<ellipse cx="192.2" cy="371.4" rx="1.7" ry="2.05" fill="#1c1d20"/>
<ellipse cx="197.0" cy="372.8" rx="1.7" ry="2.05" fill="#1c1d20"/>
<ellipse cx="201.9" cy="374.1" rx="1.7" ry="2.05" fill="#1c1d20"/>
<ellipse cx="206.8" cy="375.4" rx="1.7" ry="2.05" fill="#1c1d20"/>
<ellipse cx="211.8" cy="376.7" rx="1.7" ry="2.05" fill="#1c1d20"/>
<ellipse cx="216.7" cy="378.1" rx="1.7" ry="2.05" fill="#1c1d20"/>
<ellipse cx="221.6" cy="379.4" rx="1.7" ry="2.05" fill="#1c1d20"/>
<ellipse cx="226.4" cy="380.7" rx="1.7" ry="2.05" fill="#1c1d20"/>
<ellipse cx="231.3" cy="382.0" rx="1.7" ry="2.05" fill="#1c1d20"/>
<ellipse cx="189.7" cy="376.1" rx="1.7" ry="2.05" fill="#1c1d20"/>
<ellipse cx="194.6" cy="377.4" rx="1.7" ry="2.05" fill="#1c1d20"/>
<ellipse cx="199.5" cy="378.7" rx="1.7" ry="2.05" fill="#1c1d20"/>
<ellipse cx="204.4" cy="380.0" rx="1.7" ry="2.05" fill="#1c1d20"/>
<ellipse cx="209.3" cy="381.4" rx="1.7" ry="2.05" fill="#1c1d20"/>
<ellipse cx="214.2" cy="382.7" rx="1.7" ry="2.05" fill="#1c1d20"/>
<ellipse cx="219.1" cy="384.0" rx="1.7" ry="2.05" fill="#1c1d20"/>
<ellipse cx="224.0" cy="385.3" rx="1.7" ry="2.05" fill="#1c1d20"/>
<ellipse cx="228.9" cy="386.7" rx="1.7" ry="2.05" fill="#1c1d20"/>
<ellipse cx="233.8" cy="388.0" rx="1.7" ry="2.05" fill="#1c1d20"/>
<ellipse cx="187.2" cy="380.7" rx="1.7" ry="2.05" fill="#1c1d20"/>
<ellipse cx="192.2" cy="382.0" rx="1.7" ry="2.05" fill="#1c1d20"/>
<ellipse cx="197.0" cy="383.4" rx="1.7" ry="2.05" fill="#1c1d20"/>
<ellipse cx="201.9" cy="384.7" rx="1.7" ry="2.05" fill="#1c1d20"/>
<ellipse cx="206.8" cy="386.0" rx="1.7" ry="2.05" fill="#1c1d20"/>
<ellipse cx="211.8" cy="387.3" rx="1.7" ry="2.05" fill="#1c1d20"/>
<ellipse cx="216.7" cy="388.7" rx="1.7" ry="2.05" fill="#1c1d20"/>
<ellipse cx="221.6" cy="390.0" rx="1.7" ry="2.05" fill="#1c1d20"/>
<ellipse cx="226.4" cy="391.3" rx="1.7" ry="2.05" fill="#1c1d20"/>
<ellipse cx="231.3" cy="392.6" rx="1.7" ry="2.05" fill="#1c1d20"/>
<ellipse cx="189.7" cy="386.7" rx="1.7" ry="2.05" fill="#1c1d20"/>
<ellipse cx="194.6" cy="388.0" rx="1.7" ry="2.05" fill="#1c1d20"/>
<ellipse cx="199.5" cy="389.3" rx="1.7" ry="2.05" fill="#1c1d20"/>
<ellipse cx="204.4" cy="390.6" rx="1.7" ry="2.05" fill="#1c1d20"/>
<ellipse cx="209.3" cy="392.0" rx="1.7" ry="2.05" fill="#1c1d20"/>
<ellipse cx="214.2" cy="393.3" rx="1.7" ry="2.05" fill="#1c1d20"/>
<ellipse cx="219.1" cy="394.6" rx="1.7" ry="2.05" fill="#1c1d20"/>
<ellipse cx="224.0" cy="395.9" rx="1.7" ry="2.05" fill="#1c1d20"/>
<ellipse cx="228.9" cy="397.3" rx="1.7" ry="2.05" fill="#1c1d20"/>
<ellipse cx="233.8" cy="398.6" rx="1.7" ry="2.05" fill="#1c1d20"/>
<ellipse cx="187.2" cy="391.3" rx="1.7" ry="2.05" fill="#1c1d20"/>
<ellipse cx="192.2" cy="392.6" rx="1.7" ry="2.05" fill="#1c1d20"/>
<ellipse cx="197.0" cy="394.0" rx="1.7" ry="2.05" fill="#1c1d20"/>
<ellipse cx="201.9" cy="395.3" rx="1.7" ry="2.05" fill="#1c1d20"/>
<ellipse cx="206.8" cy="396.6" rx="1.7" ry="2.05" fill="#1c1d20"/>
<ellipse cx="211.8" cy="397.9" rx="1.7" ry="2.05" fill="#1c1d20"/>
<ellipse cx="216.7" cy="399.3" rx="1.7" ry="2.05" fill="#1c1d20"/>
<ellipse cx="221.6" cy="400.6" rx="1.7" ry="2.05" fill="#1c1d20"/>
<ellipse cx="226.4" cy="401.9" rx="1.7" ry="2.05" fill="#1c1d20"/>
<ellipse cx="231.3" cy="403.2" rx="1.7" ry="2.05" fill="#1c1d20"/>
<ellipse cx="189.7" cy="397.3" rx="1.7" ry="2.05" fill="#1c1d20"/>
<ellipse cx="194.6" cy="398.6" rx="1.7" ry="2.05" fill="#1c1d20"/>
<ellipse cx="199.5" cy="399.9" rx="1.7" ry="2.05" fill="#1c1d20"/>
<ellipse cx="204.4" cy="401.2" rx="1.7" ry="2.05" fill="#1c1d20"/>
<ellipse cx="209.3" cy="402.6" rx="1.7" ry="2.05" fill="#1c1d20"/>
<ellipse cx="214.2" cy="403.9" rx="1.7" ry="2.05" fill="#1c1d20"/>
<ellipse cx="219.1" cy="405.2" rx="1.7" ry="2.05" fill="#1c1d20"/>
<ellipse cx="224.0" cy="406.5" rx="1.7" ry="2.05" fill="#1c1d20"/>
<ellipse cx="228.9" cy="407.9" rx="1.7" ry="2.05" fill="#1c1d20"/>
<ellipse cx="233.8" cy="409.2" rx="1.7" ry="2.05" fill="#1c1d20"/>
<ellipse cx="187.2" cy="401.9" rx="1.7" ry="2.05" fill="#1c1d20"/>
<ellipse cx="192.2" cy="403.2" rx="1.7" ry="2.05" fill="#1c1d20"/>
<ellipse cx="197.0" cy="404.6" rx="1.7" ry="2.05" fill="#1c1d20"/>
<ellipse cx="201.9" cy="405.9" rx="1.7" ry="2.05" fill="#1c1d20"/>
<ellipse cx="206.8" cy="407.2" rx="1.7" ry="2.05" fill="#1c1d20"/>
<ellipse cx="211.8" cy="408.5" rx="1.7" ry="2.05" fill="#1c1d20"/>
<ellipse cx="216.7" cy="409.9" rx="1.7" ry="2.05" fill="#1c1d20"/>
<ellipse cx="221.6" cy="411.2" rx="1.7" ry="2.05" fill="#1c1d20"/>
<ellipse cx="226.4" cy="412.5" rx="1.7" ry="2.05" fill="#1c1d20"/>
<ellipse cx="231.3" cy="413.8" rx="1.7" ry="2.05" fill="#1c1d20"/>
<ellipse cx="189.7" cy="407.9" rx="1.7" ry="2.05" fill="#1c1d20"/>
<ellipse cx="194.6" cy="409.2" rx="1.7" ry="2.05" fill="#1c1d20"/>
<ellipse cx="199.5" cy="410.5" rx="1.7" ry="2.05" fill="#1c1d20"/>
<ellipse cx="204.4" cy="411.8" rx="1.7" ry="2.05" fill="#1c1d20"/>
<ellipse cx="209.3" cy="413.2" rx="1.7" ry="2.05" fill="#1c1d20"/>
<ellipse cx="214.2" cy="414.5" rx="1.7" ry="2.05" fill="#1c1d20"/>
<ellipse cx="219.1" cy="415.8" rx="1.7" ry="2.05" fill="#1c1d20"/>
<ellipse cx="224.0" cy="417.1" rx="1.7" ry="2.05" fill="#1c1d20"/>
<ellipse cx="228.9" cy="418.5" rx="1.7" ry="2.05" fill="#1c1d20"/>
<ellipse cx="233.8" cy="419.8" rx="1.7" ry="2.05" fill="#1c1d20"/>
<ellipse cx="187.2" cy="412.5" rx="1.7" ry="2.05" fill="#1c1d20"/>
<ellipse cx="192.2" cy="413.8" rx="1.7" ry="2.05" fill="#1c1d20"/>
<ellipse cx="197.0" cy="415.2" rx="1.7" ry="2.05" fill="#1c1d20"/>
<ellipse cx="201.9" cy="416.5" rx="1.7" ry="2.05" fill="#1c1d20"/>
<ellipse cx="206.8" cy="417.8" rx="1.7" ry="2.05" fill="#1c1d20"/>
<ellipse cx="211.8" cy="419.1" rx="1.7" ry="2.05" fill="#1c1d20"/>
<ellipse cx="216.7" cy="420.5" rx="1.7" ry="2.05" fill="#1c1d20"/>
<ellipse cx="221.6" cy="421.8" rx="1.7" ry="2.05" fill="#1c1d20"/>
<ellipse cx="226.4" cy="423.1" rx="1.7" ry="2.05" fill="#1c1d20"/>
<ellipse cx="231.3" cy="424.4" rx="1.7" ry="2.05" fill="#1c1d20"/>
</g>
<line x1="226" y1="297" x2="226" y2="416.5" stroke="#bfc0c4" stroke-width="1"/>
<ellipse cx="254.2" cy="275.9" rx="7.5" ry="2" fill="#3a3c41" transform="rotate(-8 254.2 275.9)"/>
<path d="M196.6,287.5 L197.1,277.0 Q197.2,273.5 200.6,274.4 L224.1,281.1 Q227.5,282.0 228.1,285.5 L229.8,296.0" fill="none" stroke="#55565b" stroke-width="3.2" stroke-linecap="butt"/>
<path d="M196.6,287.5 L197.1,277.0 Q197.2,273.5 200.6,274.4 L224.1,281.1 Q227.5,282.0 228.1,285.5 L229.8,296.0" fill="none" stroke="#eeeff1" stroke-width="1.1" stroke-linecap="butt"/>
<line x1="199.7" y1="272.4" x2="225.0" y2="280.9" stroke="#16171a" stroke-width="1.5" stroke-linecap="round"/>
<path d="M277.0,271.0 L277.3,251.0 Q277.3,247.5 280.7,248.5 L304.9,255.5 Q308.3,256.5 308.5,260.0 L309.3,272.2" fill="none" stroke="#55565b" stroke-width="3.2" stroke-linecap="butt"/>
<path d="M277.0,271.0 L277.3,251.0 Q277.3,247.5 280.7,248.5 L304.9,255.5 Q308.3,256.5 308.5,260.0 L309.3,272.2" fill="none" stroke="#eeeff1" stroke-width="1.1" stroke-linecap="butt"/>
<line x1="279.8" y1="246.4" x2="305.8" y2="255.4" stroke="#16171a" stroke-width="1.5" stroke-linecap="round"/>
<rect x="195.2" y="405" width="2.6" height="10" fill="#a2a4a9"/>
<ellipse cx="196.5" cy="415" rx="6" ry="1.6" fill="#c3c5c9"/>
<rect x="227.7" y="416" width="2.6" height="8" fill="#a2a4a9"/>
<ellipse cx="229" cy="424" rx="6" ry="1.6" fill="#c3c5c9"/>
<rect x="307.7" y="387.5" width="2.6" height="12" fill="#a2a4a9"/>
<ellipse cx="309" cy="399.5" rx="6" ry="1.6" fill="#c3c5c9"/>
<defs><radialGradient id="apg" cx="0.38" cy="0.45" r="0.65"><stop offset="0" stop-color="#f7f7f9"/><stop offset="0.7" stop-color="#f0f0f3"/><stop offset="1" stop-color="#dcdce2"/></radialGradient></defs>
<ellipse cx="408.3" cy="396.7" rx="53.8" ry="77.8" fill="url(#apg)" transform="rotate(-20.5 408.3 396.7)"/>
<ellipse cx="391.1" cy="402.5" rx="21.3" ry="28.7" fill="none" stroke="#dcdce4" stroke-width="1.3" transform="rotate(-6 391.1 402.5)"/>
<path d="M 391.1 373.8 A 21.3 28.7 0 0 1 391.1 431.2" fill="none" stroke="#7381ee" stroke-width="1.7" transform="rotate(-6 391.1 402.5)"/>
<path d="M389,398 L389,405 Q391.5,408.5 394,405 L394,398" fill="none" stroke="#cdced5" stroke-width="1.1"/>
<path d="M582,452 L602,443 L608,483 L588,487 Z" fill="#f1f1f4"/>
<path d="M591.6,442.7 Q604,434 623.8,435 Q633,439 635.4,455 Q637,473 630.4,482.6 Q617,491 600.5,489.3 Q594,470 591.6,442.7 Z" fill="#f4f4f6" stroke="#d9d9df" stroke-width="0.8"/>
<path d="M612,438 Q626,436 631,446 Q636,463 631,480 Q622,488 612,487 Q618,462 612,438 Z" fill="#e9e9ed"/>
<path d="M598,446 Q609,441 614,446 Q620,466 613,487" fill="none" stroke="#cfd0d6" stroke-width="0.9"/>
<path d="M594,452 Q600,449 604,452 Q609,468 604,485" fill="none" stroke="#dadbe0" stroke-width="0.7"/>
<defs><linearGradient id="bulg" x1="0" y1="0" x2="0" y2="1"><stop offset="0" stop-color="#f7f7f9"/><stop offset="0.6" stop-color="#f4f4f6"/><stop offset="1" stop-color="#e4e4e8"/></linearGradient></defs>
<path d="M512,452 Q540,443 569.2,443.3 Q582,445 585.7,451.5 Q594,462 593.2,480 Q592,502 582.7,513.2 Q566,523 548.1,525.2 L528,525 Z" fill="url(#bulg)"/>
<ellipse cx="522.5" cy="489" rx="28.5" ry="36.3" fill="#141518" transform="rotate(-7 522.5 489)"/>
<ellipse cx="518.5" cy="494.5" rx="20.5" ry="30.5" fill="#4e4f54" transform="rotate(-7 518.5 494.5)"/>
<ellipse cx="519.9" cy="491" rx="12.6" ry="17.8" fill="#1f2023" transform="rotate(-7 519.9 491)"/>
<ellipse cx="521.5" cy="490" rx="8.3" ry="12" fill="#a9aaaf" transform="rotate(-7 521.5 490)"/>
<ellipse cx="520" cy="487" rx="4" ry="6" fill="#d0d1d5" transform="rotate(-7 520 487)"/>
<path d="M572.5,488 L572.5,495 Q575.2,499.5 578,495 L578,488" fill="none" stroke="#cfd0d5" stroke-width="1.4"/>
<defs><linearGradient id="g4g" x1="0" y1="0" x2="1" y2="0"><stop offset="0" stop-color="#f5f5f7"/><stop offset="0.6" stop-color="#f2f2f4"/><stop offset="1" stop-color="#e3e3e7"/></linearGradient></defs>
<path d="M675.4,491 A22.5,23 0 0 1 720.4,491 L720.4,566 Q719,571.8 698,571.8 Q677,571.8 675.8,566 Z" fill="url(#g4g)"/>
<line x1="676" y1="543" x2="720" y2="543.5" stroke="#dedee3" stroke-width="0.9"/>
<ellipse cx="690.4" cy="493.6" rx="13.8" ry="20.8" fill="#e2e2e6"/>
<ellipse cx="690.5" cy="493.5" rx="13.6" ry="20.2" fill="#1e1f22"/>
<ellipse cx="694" cy="498" rx="7" ry="12" fill="#323337"/>
<ellipse cx="686.3" cy="496.6" rx="9.6" ry="11.2" fill="#707176"/>
<ellipse cx="685.3" cy="496" rx="7.4" ry="9.3" fill="#d4d5d9"/>
<circle cx="623.5" cy="83.4" r="16.4" fill="#1574ea"/>
<g fill="none" stroke="#a9d0ff" stroke-width="1.6"><circle cx="623.5" cy="83.4" r="9.2"/><ellipse cx="623.5" cy="83.4" rx="4.3" ry="9.2"/><line x1="623.5" y1="74.2" x2="623.5" y2="92.6"/><line x1="614.8" y1="79.6" x2="632.2" y2="79.6"/><line x1="614.8" y1="87.2" x2="632.2" y2="87.2"/></g>
<circle cx="659.2" cy="162.7" r="5.6" fill="#1a4c98"/>
<path d="M659.8,158.8 L657.2,163.2 L659.2,163.2 L658.6,166.6 L661.2,162.2 L659.2,162.2 Z" fill="#fff"/>
<text x="649.4" y="152.8" font-family="Liberation Sans, sans-serif" font-size="11.8" fill="#3d5c8a" textLength="19.6" lengthAdjust="spacingAndGlyphs">PoE</text>
<rect x="220" y="110.5" width="126" height="26" rx="3" fill="#cbcbcc"/>
<text x="231.6" y="128.9" font-family="Liberation Sans, sans-serif" font-size="14.8" fill="#fff" stroke="#fff" stroke-width="0.45" textLength="101.9" lengthAdjust="spacingAndGlyphs">Cloud Gateway</text>
<rect x="781" y="118" width="97" height="26" rx="3" fill="#1574ea"/>
<text x="790.3" y="136.2" font-family="Liberation Sans, sans-serif" font-size="14.8" fill="#fff" stroke="#fff" stroke-width="0.45" textLength="78.2" lengthAdjust="spacingAndGlyphs">LTE Backup</text>
<rect x="960" y="232.5" width="154" height="26" rx="3" fill="#cbcbcc"/>
<text x="971.8" y="250.7" font-family="Liberation Sans, sans-serif" font-size="14.8" fill="#fff" stroke="#fff" stroke-width="0.45" textLength="130.0" lengthAdjust="spacingAndGlyphs">Professional Switch</text>
<rect x="328.5" y="483.5" width="103.5" height="26.5" rx="3" fill="#cbcbcc"/>
<text x="337.5" y="502.3" font-family="Liberation Sans, sans-serif" font-size="14.8" fill="#fff" stroke="#fff" stroke-width="0.45" textLength="85.8" lengthAdjust="spacingAndGlyphs">Access Point</text>
<rect x="513" y="556" width="129" height="25.5" rx="3" fill="#cbcbcc"/>
<text x="521.6" y="574.2" font-family="Liberation Sans, sans-serif" font-size="14.8" fill="#fff" stroke="#fff" stroke-width="0.45" textLength="111.4" lengthAdjust="spacingAndGlyphs">Camera Security</text>
</svg>

</body></html>
